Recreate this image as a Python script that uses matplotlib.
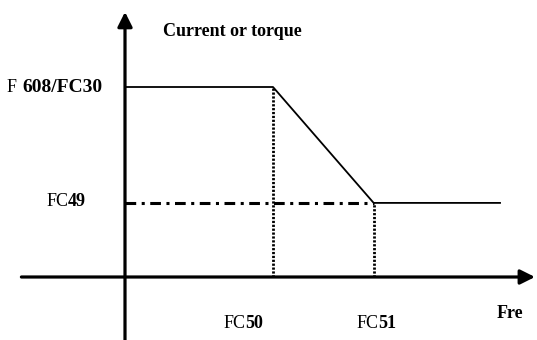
import matplotlib
matplotlib.use("Agg")
import matplotlib.pyplot as plt

# Data (abstract units: FC50 = 1 on frequency axis, F608/FC30 = 1 on current axis)
freq = [0.0, 1.0, 1.68, 2.54]          # origin, FC50, FC51, end of curve
current = [1.0, 1.0, 0.39, 0.39]        # F608/FC30 plateau, FC49 level
fc50, fc51 = 1.0, 1.68
lvl_hi, lvl_lo = 1.0, 0.39

plt.rcParams['font.family'] = ['Liberation Serif', 'DejaVu Serif']

fig = plt.figure(figsize=(5.37, 3.40), dpi=100)
ax = fig.add_axes([0, 0, 1, 1])
ax.set_xlim(-125/148, (537-125)/148)
ax.set_ylim(-(340-277)/190, 277/190)
ax.axis('off')

# axes with arrows
ap = dict(arrowstyle='-|>', lw=2.3, color='black', mutation_scale=22,
          shrinkA=0, shrinkB=0)
ax.annotate('', xy=(2.77, 0), xytext=(-0.70, 0), arrowprops=ap)
ax.annotate('', xy=(0, 1.395), xytext=(0, -0.34), arrowprops=ap)

# curve
ax.plot(freq, current, color='black', lw=1.3, solid_capstyle='butt')
# dash-dot reference at FC49
ax.plot([0, fc51], [lvl_lo, lvl_lo], color='black', lw=2.2,
        dashes=(3.5, 1.8, 1, 1.8), solid_capstyle='butt')
# dotted verticals
ax.plot([fc50, fc50], [0, lvl_hi], color='black', lw=2.0, ls=(0, (0.8, 0.6)))
ax.plot([fc51, fc51], [0, lvl_lo], color='black', lw=2.0, ls=(0, (0.8, 0.6)))

def px(x):
    return (x - 125) / 148

def py(y):
    return (277 - y) / 190

fs = 13
ax.text(px(232), py(31), 'Current or torque', fontsize=fs, fontweight='bold',
        ha='center', va='center')
ax.text(px(17), py(87), 'F', fontsize=fs, ha='right', va='center')
ax.text(px(22), py(87), '608/FC30', fontsize=14, fontweight='bold', ha='left', va='center')
ax.text(px(69), py(202), 'FC', fontsize=fs, ha='right', va='center')
ax.text(px(68), py(202), '49', fontsize=fs, fontweight='bold', ha='left', va='center')
ax.text(px(246), py(323), 'FC', fontsize=fs, ha='right', va='center')
ax.text(px(245), py(323), '50', fontsize=fs, fontweight='bold', ha='left', va='center')
ax.text(px(379), py(323), 'FC', fontsize=fs, ha='right', va='center')
ax.text(px(378), py(323), '51', fontsize=fs, fontweight='bold', ha='left', va='center')
ax.text(px(497), py(313), 'Fre', fontsize=fs, fontweight='bold', ha='left', va='center')

fig.savefig('out.png', dpi=100)
